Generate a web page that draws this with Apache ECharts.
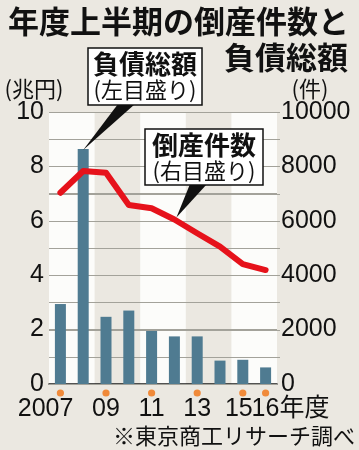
<!DOCTYPE html>
<html><head><meta charset="utf-8">
<script src="https://cdn.jsdelivr.net/npm/echarts@6/dist/echarts.min.js"></script>
<style>html,body{margin:0;padding:0;background:#ebe8e1}#c{width:359px;height:450px}</style>
</head><body><div id="c"></div>
<script>
const years = ['2007','2008','2009','2010','2011','2012','2013','2014','2015','2016'];
const yearLabels = ['2007','','09','','11','','13','','15','16年度'];
const debt = [2.94, 8.64, 2.47, 2.70, 1.95, 1.75, 1.75, 0.86, 0.89, 0.61];   // 兆円 (left)
const cases = [7030, 7830, 7770, 6580, 6460, 6050, 5540, 5050, 4410, 4190]; // 件 (right)
const gridValues = [1, 2, 3, 4, 5, 6, 7, 8, 9, 10]; // horizontal rules (left scale)
const leftMax = 10, leftStep = 1;
const rightMax = 10000, rightStep = 1000;
const titleLine1 = '年度上半期の倒産件数と';
const titleLine2 = '負債総額';
const leftUnit = '(兆円)';
const rightUnit = '(件)';
const debtNote = ['負債総額', '(左目盛り)'];
const caseNote = ['倒産件数', '(右目盛り)'];
const sourceText = '※東京商工リサーチ調べ';

const JP = '"Noto Sans CJK JP", "Noto Sans", sans-serif';
const NUM = '"Liberation Sans", Arial, sans-serif';

const chart = echarts.init(document.getElementById('c'), null, {renderer: 'canvas'});
const option = {
  backgroundColor: '#ebe8e1',
  animation: false,
  grid: {left: 49, right: 82, top: 112, bottom: 66, containLabel: false, outerBoundsMode: 'none'},
  xAxis: {
    type: 'category', data: years, boundaryGap: true, z: 0,
    axisLine: {lineStyle: {color: '#1a1a1a', width: 1.5}},
    axisTick: {show: false}, axisLabel: {show: false},
    splitLine: {show: false},
    splitArea: {show: true, areaStyle: {color: ['#fcfcfa', 'rgba(0,0,0,0)']}}
  },
  yAxis: [
    {
      type: 'value', min: 0, max: leftMax, interval: leftStep, z: 1,
      axisLine: {show: false}, axisTick: {show: false},
      axisLabel: {margin: 5, fontFamily: NUM, fontSize: 25, color: '#111',
        formatter: v => (v % 2 === 0 ? String(v) : '')},
      splitLine: {show: true, lineStyle: {color: '#a3a29a', width: 1}}
    },
    {
      type: 'value', min: 0, max: rightMax, interval: rightStep, position: 'right', z: 1,
      axisLine: {show: false}, axisTick: {show: false},
      axisLabel: {margin: 4, fontFamily: NUM, fontSize: 25, color: '#111',
        formatter: v => (v % 2000 === 0 ? String(v) : '')},
      splitLine: {show: false}
    }
  ],
  series: [
    {type: 'bar', data: debt, yAxisIndex: 0, barWidth: 11,
      itemStyle: {color: '#4f7b91'}, z: 2},
    {type: 'line', data: cases, yAxisIndex: 1, symbol: 'none', smooth: false,
      lineStyle: {color: '#e6121b', width: 6, cap: 'round', join: 'round'}, z: 4}
  ]
};
chart.setOption(option);

function px(i, v, yi) {
  return chart.convertToPixel({xAxisIndex: 0, yAxisIndex: yi || 0}, [i, v]);
}
const base = px(0, 0);
const axisY = base[1];
const gridRect = chart.getModel().getComponent('grid', 0).coordinateSystem.getRect();
const g = [];

// horizontal rules through the left axis scale
gridValues.forEach(v => {
  const y = Math.round(px(0, v)[1]) + 0.5;
  g.push({type: 'line', shape: {x1: gridRect.x, y1: y, x2: gridRect.x + gridRect.width + 3, y2: y},
    style: {stroke: '#a3a29a', lineWidth: 1.2}, z: 1, silent: true});
});

// titles
g.push({type: 'text', left: 8, top: 6, style: {text: titleLine1, font: 'bold 31px ' + JP, fill: '#111'}});
g.push({type: 'text', right: 11, top: 42, style: {text: titleLine2, font: 'bold 31px ' + JP, fill: '#111'}});
// units
g.push({type: 'text', x: 34, y: 89, style: {text: leftUnit, font: '22px ' + JP, fill: '#111', align: 'center', verticalAlign: 'middle'}});
g.push({type: 'text', x: 310, y: 89, style: {text: rightUnit, font: '22px ' + JP, fill: '#111', align: 'center', verticalAlign: 'middle'}});

// year labels + dots
yearLabels.forEach((lab, i) => {
  if (!lab) return;
  const c = px(i, 0)[0];
  let x = c, align = 'center';
  if (i === 0) { x = c + 13; align = 'right'; }
  else if (i === yearLabels.length - 1) { x = c - 14; align = 'left'; }
  else if (i === yearLabels.length - 2) { x = c - 4; }
  g.push({type: 'circle', shape: {cx: c, cy: axisY + 9, r: 3.6}, style: {fill: '#f08a3a'}, z: 10});
  g.push({type: 'text', x: x, y: axisY + 25, style: {text: lab, font: '25px ' + NUM + ', "Noto Sans CJK JP"', fill: '#111', align: align, verticalAlign: 'middle'}, z: 10});
});

// source
g.push({type: 'text', right: 4, top: 425, style: {text: sourceText, font: '22px ' + JP, fill: '#111'}});

// annotation boxes
function note(box, lines, tip, baseL, baseR) {
  g.push({type: 'polygon', shape: {points: [[baseL, box.y + box.h - 1], [baseR, box.y + box.h - 1], tip]}, style: {fill: '#111'}, z: 20});
  g.push({type: 'rect', shape: {x: box.x, y: box.y, width: box.w, height: box.h}, style: {fill: '#fff', stroke: '#111', lineWidth: 1.5}, z: 21});
  g.push({type: 'text', x: box.x + box.w / 2, y: box.y + 16, style: {text: lines[0], font: 'bold 26px ' + JP, fill: '#111', align: 'center', verticalAlign: 'middle'}, z: 22});
  g.push({type: 'text', x: box.x + box.w / 2, y: box.y + 42, style: {text: lines[1], font: '22px ' + JP, fill: '#111', align: 'center', verticalAlign: 'middle'}, z: 22});
}
const tip1 = px(1, debt[1]);
tip1[1] += 1;
note({x: 88, y: 48, w: 114, h: 57}, debtNote, tip1, 118, 135);
const tip2 = px(5, cases[5], 1);
tip2[0] += 2; tip2[1] -= 2;
note({x: 145, y: 129, w: 118, h: 56}, caseNote, tip2, 190, 207);

chart.setOption({graphic: {elements: g}});
</script>
</body></html>
